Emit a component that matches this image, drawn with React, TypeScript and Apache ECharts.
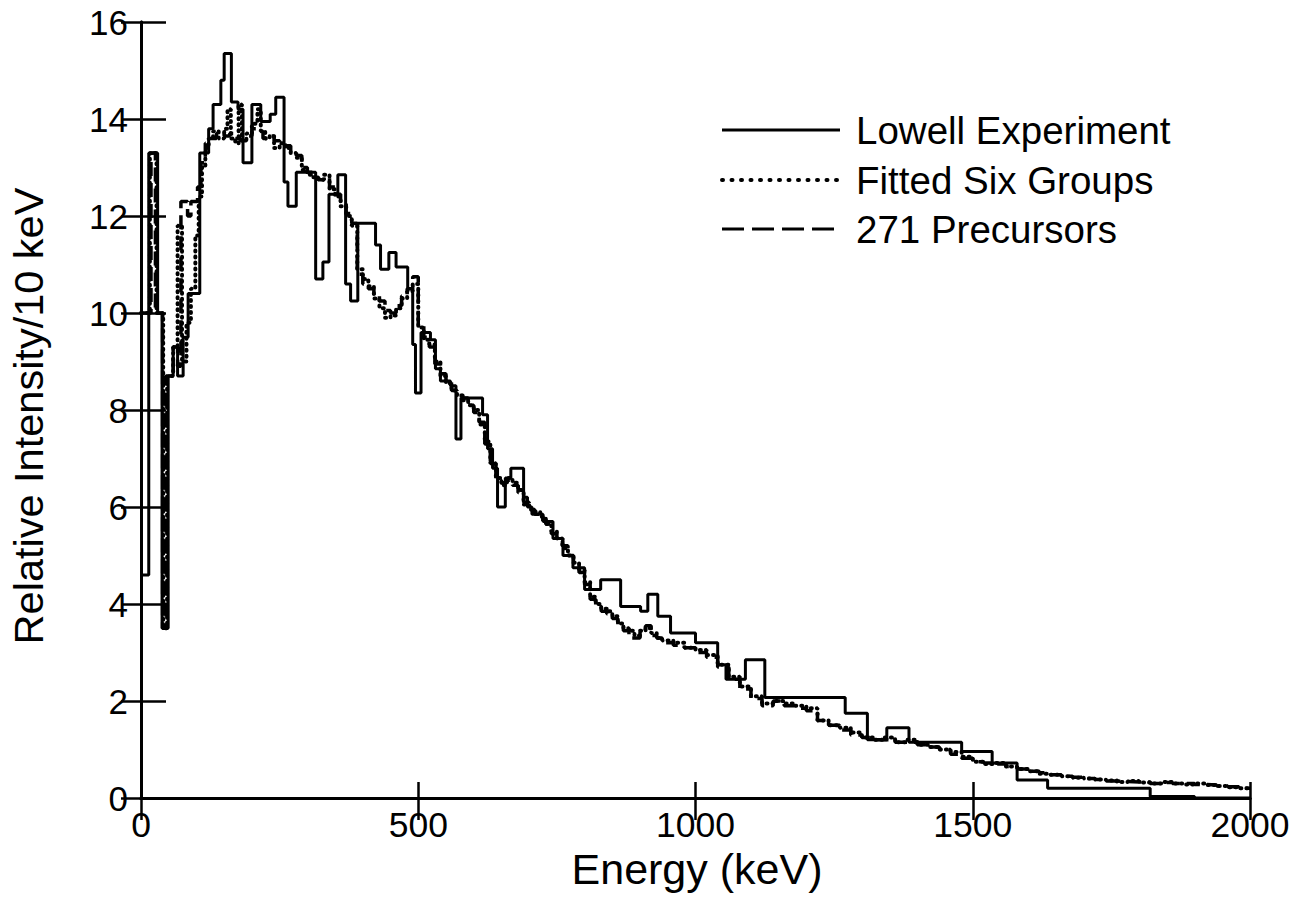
import React, { useEffect, useRef } from "react";
import * as echarts from "echarts";

// Energy (keV) bin left edge, relative intensity per 10 keV
const lowell: [number, number][] = [
  [0, 4.6], [14, 13.3], [30, 10.0], [38, 3.5], [49, 8.7], [58, 9.3], [66, 8.7], [76, 9.5],
  [85, 10.4], [106, 13.3], [122, 13.8], [130, 14.3], [144, 14.8], [150, 15.35], [163, 14.35],
  [175, 14.2], [184, 13.1], [200, 14.3], [216, 13.95], [233, 14.1], [243, 14.45], [258, 12.7],
  [265, 12.2], [280, 12.9], [315, 10.7], [328, 11.05], [339, 12.45], [355, 12.85], [369, 10.6],
  [378, 10.25], [391, 11.85], [423, 11.4], [432, 10.9], [447, 11.25], [460, 10.95], [481, 10.5],
  [490, 9.35], [495, 8.35], [505, 9.6], [522, 9.45], [531, 8.85], [540, 8.6], [558, 8.5],
  [568, 7.4], [577, 8.25], [616, 7.9], [625, 7.2], [634, 6.8], [643, 6.0], [657, 6.6],
  [667, 6.8], [690, 6.2], [697, 6.0], [705, 5.85], [725, 5.7], [743, 5.35], [761, 5.0],
  [779, 4.75], [800, 4.3], [829, 4.5], [865, 3.95], [901, 3.85], [914, 4.2], [932, 3.75],
  [955, 3.4], [1000, 3.2], [1040, 2.75], [1055, 2.45], [1090, 2.85], [1125, 2.07], [1270, 1.75],
  [1310, 1.2], [1345, 1.45], [1385, 1.15], [1480, 0.96], [1535, 0.72], [1580, 0.37],
  [1635, 0.2], [1820, 0.03], [1900, 0], [2000, 0],
];

const sixGroups: [number, number][] = [
  [0, 10.0], [16, 13.3], [28, 10.0], [40, 3.5], [47, 8.7], [58, 9.3], [66, 11.8], [74, 9.0],
  [82, 9.8], [90, 10.5], [98, 11.6], [104, 12.4], [110, 13.0], [116, 13.4], [122, 13.6],
  [130, 13.75], [140, 13.6], [150, 13.8], [156, 14.2], [162, 13.6], [170, 13.5], [176, 14.3],
  [182, 13.55], [190, 13.7], [200, 13.9], [210, 14.2], [216, 13.75], [224, 13.6], [232, 13.65],
  [240, 13.4], [250, 13.5], [260, 13.4], [270, 13.3], [280, 13.2], [290, 12.95], [300, 12.85],
  [310, 12.8], [320, 12.75], [330, 12.85], [340, 12.55], [350, 12.4], [360, 12.2], [370, 12.0],
  [380, 11.8], [390, 10.9], [400, 10.7], [410, 10.55], [420, 10.3], [430, 10.1], [440, 9.9],
  [450, 9.95], [460, 10.1], [470, 10.3], [480, 10.45], [490, 10.6], [500, 9.7], [510, 9.45],
  [520, 9.35], [530, 9.0], [540, 8.7], [550, 8.55], [560, 8.4], [570, 8.3], [580, 8.2],
  [590, 8.1], [600, 8.0], [610, 7.7], [620, 7.35], [630, 6.9], [640, 6.6], [650, 6.45],
  [660, 6.6], [670, 6.5], [680, 6.35], [690, 6.05], [700, 5.95], [710, 5.9], [720, 5.8],
  [730, 5.65], [740, 5.5], [750, 5.35], [760, 5.15], [770, 5.0], [780, 4.85], [790, 4.7],
  [800, 4.45], [810, 4.15], [820, 4.0], [830, 3.9], [840, 3.85], [850, 3.75], [860, 3.6],
  [870, 3.5], [880, 3.45], [890, 3.35], [900, 3.45], [910, 3.5], [920, 3.4], [930, 3.3],
  [940, 3.25], [960, 3.2], [980, 3.1], [1000, 3.05], [1020, 2.95], [1040, 2.75], [1060, 2.5],
  [1080, 2.3], [1100, 2.1], [1120, 1.95], [1140, 2.0], [1160, 1.95], [1180, 1.9], [1200, 1.85],
  [1220, 1.6], [1240, 1.5], [1260, 1.45], [1280, 1.35], [1300, 1.25], [1320, 1.2], [1340, 1.25],
  [1360, 1.15], [1380, 1.2], [1400, 1.1], [1420, 1.05], [1440, 1.0], [1460, 0.95], [1480, 0.85],
  [1500, 0.75], [1520, 0.7], [1540, 0.72], [1560, 0.65], [1580, 0.6], [1600, 0.55], [1620, 0.5],
  [1640, 0.48], [1660, 0.45], [1680, 0.42], [1700, 0.4], [1720, 0.38], [1740, 0.36], [1760, 0.33],
  [1780, 0.35], [1800, 0.32], [1820, 0.3], [1840, 0.33], [1860, 0.3], [1880, 0.28], [1900, 0.3],
  [1920, 0.27], [1940, 0.25], [1960, 0.22], [1980, 0.2], [2000, 0.2],
];

const precursors: [number, number][] = [
  [0, 10.0], [18, 13.3], [26, 10.0], [39, 3.5], [45, 8.7], [58, 9.3], [66, 8.9], [72, 12.3],
  [84, 12.0], [90, 12.3], [102, 12.6], [108, 13.1], [116, 13.5], [124, 13.6], [136, 13.7],
  [150, 13.65], [160, 13.7], [170, 13.6], [180, 13.55], [190, 13.65], [200, 13.8], [210, 13.75],
  [220, 13.6], [230, 13.65], [240, 13.55], [250, 13.5], [260, 13.45], [270, 13.3], [280, 13.25],
  [290, 13.0], [300, 12.9], [310, 12.8], [320, 12.75], [330, 12.8], [340, 12.6], [350, 12.45],
  [360, 12.25], [370, 12.05], [380, 11.85], [390, 10.8], [400, 10.6], [410, 10.5], [420, 10.35],
  [430, 10.25], [440, 10.05], [450, 10.0], [460, 10.15], [470, 10.35], [480, 10.5], [490, 10.75],
  [500, 9.75], [510, 9.5], [520, 9.3], [530, 8.95], [540, 8.75], [550, 8.6], [560, 8.4],
  [570, 8.3], [580, 8.25], [590, 8.1], [600, 7.95], [610, 7.75], [620, 7.3], [630, 6.95],
  [640, 6.55], [650, 6.5], [660, 6.55], [670, 6.45], [680, 6.3], [690, 6.1], [700, 5.95],
  [710, 5.85], [720, 5.75], [730, 5.65], [740, 5.45], [750, 5.3], [760, 5.2], [770, 5.0],
  [780, 4.8], [790, 4.65], [800, 4.4], [810, 4.1], [820, 3.95], [830, 3.85], [840, 3.8],
  [850, 3.7], [860, 3.55], [870, 3.45], [880, 3.3], [890, 3.3], [900, 3.5], [910, 3.55],
  [920, 3.35], [930, 3.3], [940, 3.2], [960, 3.15], [980, 3.1], [1000, 3.0], [1020, 2.9],
  [1040, 2.7], [1060, 2.45], [1080, 2.25], [1100, 2.05], [1120, 1.9], [1140, 2.0], [1160, 1.9],
  [1180, 1.85], [1200, 1.8], [1220, 1.6], [1240, 1.5], [1260, 1.4], [1280, 1.3], [1300, 1.25],
  [1320, 1.2], [1340, 1.2], [1360, 1.15], [1380, 1.15], [1400, 1.1], [1420, 1.05], [1440, 1.0],
  [1460, 0.9], [1480, 0.82], [1500, 0.75], [1520, 0.72], [1540, 0.7], [1560, 0.65], [1580, 0.6],
  [1600, 0.55], [1620, 0.52], [1640, 0.48], [1660, 0.45], [1680, 0.43], [1700, 0.4], [1720, 0.38],
  [1740, 0.35], [1760, 0.34], [1780, 0.33], [1800, 0.33], [1820, 0.3], [1840, 0.32], [1860, 0.3],
  [1880, 0.3], [1900, 0.28], [1920, 0.27], [1940, 0.25], [1960, 0.23], [1980, 0.2], [2000, 0.2],
];

const seriesNames = ["Lowell Experiment", "Fitted Six Groups", "271 Precursors"];
const xTitle = "Energy (keV)";
const yTitle = "Relative Intensity/10 keV";

const FONT = '"Liberation Sans", Arial, Helvetica, sans-serif';
const INK = "#000";

function App() {
  const ref = useRef<HTMLDivElement>(null);
  useEffect(() => {
    if (!ref.current) return;
    const chart = echarts.init(ref.current, undefined, { renderer: "svg" });
    const axisLine = { show: true, lineStyle: { color: INK, width: 3 } };
    const legendRows = [
      { y: 130, dash: null as number[] | null, cap: "butt" },
      { y: 180, dash: [1, 8.5], cap: "round" },
      { y: 229, dash: [22, 8], cap: "butt" },
    ];
    chart.setOption({
      animation: false,
      backgroundColor: "#fff",
      grid: { left: 141, right: 55, top: 22, bottom: 111, containLabel: false },
      xAxis: [
        {
          type: "value", min: 0, max: 2000, interval: 500, position: "bottom",
          axisLine, splitLine: { show: false },
          axisTick: { show: true, inside: true, length: 16, lineStyle: { color: INK, width: 2.5 } },
          axisLabel: {
            color: INK, fontFamily: FONT, fontSize: 35.5, margin: 9,
            formatter: (v: number) => String(v),
          },
        },
        {
          type: "value", min: 0, max: 2000, interval: 500, position: "top",
          axisLine, splitLine: { show: false },
          axisTick: { show: true, inside: true, length: 22, lineStyle: { color: INK, width: 2.5 } },
          axisLabel: { show: false },
        },
      ],
      yAxis: [
        {
          type: "value", min: 0, max: 16, interval: 2, position: "left",
          axisLine, splitLine: { show: false },
          axisTick: { show: true, inside: true, length: 25, lineStyle: { color: INK, width: 2.5 } },
          axisLabel: { color: INK, fontFamily: FONT, fontSize: 35, margin: 13 },
        },
        {
          type: "value", min: 0, max: 16, interval: 2, position: "right",
          axisLine, splitLine: { show: false },
          axisTick: { show: true, inside: true, length: 20, lineStyle: { color: INK, width: 2.5 } },
          axisLabel: { show: false },
        },
      ],
      series: [
        {
          name: seriesNames[0], type: "line", step: "end", showSymbol: false, data: lowell,
          lineStyle: { color: INK, width: 3, type: "solid" }, z: 3,
        },
        {
          name: seriesNames[1], type: "line", step: "end", showSymbol: false, data: sixGroups,
          lineStyle: { color: INK, width: 4, type: [1, 5], cap: "round" }, z: 2,
        },
        {
          name: seriesNames[2], type: "line", step: "end", showSymbol: false, data: precursors,
          lineStyle: { color: INK, width: 3.5, type: [14, 7] }, z: 2,
        },
      ],
      graphic: [
        {
          type: "text", x: 28, y: 416, rotation: Math.PI / 2,
          style: { text: yTitle, fill: INK, fontFamily: FONT, fontSize: 41.5, textAlign: "center", textVerticalAlign: "middle" },
        },
        {
          type: "text", x: 697, y: 869,
          style: { text: xTitle, fill: INK, fontFamily: FONT, fontSize: 43, textAlign: "center", textVerticalAlign: "middle" },
        },
        ...legendRows.flatMap((r, i) => [
          {
            type: "line",
            shape: { x1: 722, y1: r.y, x2: 840, y2: r.y },
            style: { stroke: INK, lineWidth: i === 1 ? 4 : 3, lineDash: r.dash || undefined, lineCap: r.cap },
          },
          {
            type: "text", x: 856, y: r.y,
            style: { text: seriesNames[i], fill: INK, fontFamily: FONT, fontSize: 38.5, textAlign: "left", textVerticalAlign: "middle" },
          },
        ]),
      ],
    });
    return () => chart.dispose();
  }, []);
  return <div ref={ref} style={{ position: "absolute", left: 0, top: 0, width: 1305, height: 909 }} />;
}

export default App;
